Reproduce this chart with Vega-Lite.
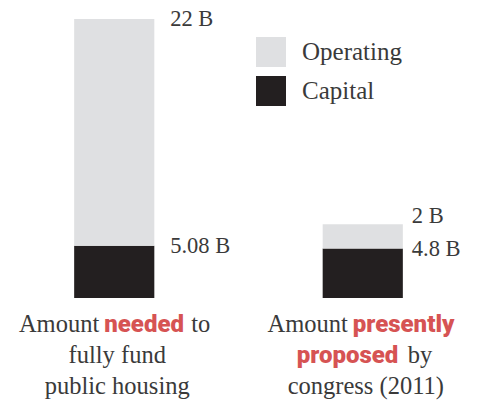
{
  "$schema": "https://vega.github.io/schema/vega-lite/v6.json",
  "padding": 0,
  "spacing": 10,
  "config": {"view": {"stroke": null}, "text": {"font": "Liberation Serif"}},
  "datasets": {
    "amounts": [
      {"bar": "needed", "type": "Capital", "value": 5.08, "label": "5.08 B"},
      {"bar": "needed", "type": "Operating", "value": 22, "label": "22 B"},
      {"bar": "proposed", "type": "Capital", "value": 4.8, "label": "4.8 B"},
      {"bar": "proposed", "type": "Operating", "value": 2.35, "label": "2 B"}
    ],
    "caption": [
      {"bar": "needed", "line": 1, "piece": "lead", "text": "Amount"},
      {"bar": "needed", "line": 1, "piece": "hl", "text": "needed"},
      {"bar": "needed", "line": 1, "piece": "to", "text": "to"},
      {"bar": "needed", "line": 2, "piece": "plain", "text": "fully fund"},
      {"bar": "needed", "line": 3, "piece": "plain", "text": "public housing"},
      {"bar": "proposed", "line": 1, "piece": "lead", "text": "Amount"},
      {"bar": "proposed", "line": 1, "piece": "hl", "text": "presently"},
      {"bar": "proposed", "line": 2, "piece": "hl2", "text": "proposed"},
      {"bar": "proposed", "line": 2, "piece": "by", "text": "by"},
      {"bar": "proposed", "line": 3, "piece": "plain", "text": "congress (2011)"}
    ]
  },
  "vconcat": [
    {
      "width": 477,
      "height": 298,
      "data": {"name": "amounts"},
      "transform": [
        {"stack": "value", "groupby": ["bar"], "sort": [{"field": "type", "order": "ascending"}], "as": ["v0", "v1"]}
      ],
      "encoding": {
        "x": {"field": "bar", "type": "nominal", "scale": {"type": "band", "domain": ["needed", "proposed"], "paddingInner": 0.6774, "paddingOuter": 0.2984}, "axis": null}
      },
      "layer": [
        {
          "mark": {"type": "bar"},
          "encoding": {
            "y": {"field": "v1", "type": "quantitative", "scale": {"domain": [0, 28.92], "nice": false}, "axis": null},
            "y2": {"field": "v0"},
            "color": {
              "field": "type", "type": "nominal",
              "scale": {"domain": ["Operating", "Capital"], "range": ["#dfe0e2", "#231f20"]},
              "legend": {"title": null, "orient": "none", "legendX": 256, "legendY": 37, "symbolType": "square", "symbolSize": 900, "symbolStrokeWidth": 0, "symbolOpacity": 1, "labelFont": "Liberation Serif", "labelFontSize": 25, "labelColor": "#3a3a3a", "labelOffset": 16, "rowPadding": 9, "padding": 0}
            }
          }
        },
        {
          "transform": [{"filter": "datum.bar === 'needed'"}],
          "mark": {"type": "text", "align": "left", "baseline": "middle", "dx": 56, "fontSize": 22.5, "color": "#3a3a3a"},
          "encoding": {"y": {"field": "v1", "type": "quantitative"}, "text": {"field": "label"}}
        },
        {
          "transform": [{"filter": "datum.bar === 'proposed' && datum.type === 'Capital'"}],
          "mark": {"type": "text", "align": "left", "baseline": "middle", "dx": 49, "fontSize": 22.5, "color": "#3a3a3a"},
          "encoding": {"y": {"field": "v1", "type": "quantitative"}, "text": {"field": "label"}}
        },
        {
          "transform": [{"filter": "datum.bar === 'proposed' && datum.type === 'Operating'"}],
          "mark": {"type": "text", "align": "left", "baseline": "middle", "dx": 49, "dy": -8, "fontSize": 22.5, "color": "#3a3a3a"},
          "encoding": {"y": {"field": "v1", "type": "quantitative"}, "text": {"field": "label"}}
        }
      ]
    },
    {
      "width": 477,
      "height": 92,
      "data": {"name": "caption"},
      "encoding": {
        "x": {"field": "bar", "type": "nominal", "scale": {"type": "band", "domain": ["needed", "proposed"], "paddingInner": 0.6774, "paddingOuter": 0.2984}, "axis": null},
        "y": {"field": "line", "type": "ordinal", "scale": {"type": "point", "domain": [1, 2, 3], "padding": 0.5}, "axis": null},
        "text": {"field": "text"}
      },
      "layer": [
        {
          "transform": [{"filter": "datum.piece === 'plain'"}],
          "mark": {"type": "text", "align": "center", "baseline": "alphabetic", "dy": 9, "dx": 3, "font": "Liberation Serif", "fontSize": 24.5, "color": "#3a3a3a"}
        },
        {
          "transform": [{"filter": "datum.piece === 'lead'"}],
          "mark": {"type": "text", "align": "right", "baseline": "alphabetic", "dy": 9, "dx": -15, "font": "Liberation Serif", "fontSize": 24.5, "color": "#3a3a3a"}
        },
        {
          "transform": [{"filter": "datum.piece === 'to'"}],
          "mark": {"type": "text", "align": "left", "baseline": "alphabetic", "dy": 9, "dx": 77, "font": "Liberation Serif", "fontSize": 24.5, "color": "#3a3a3a"}
        },
        {
          "transform": [{"filter": "datum.piece === 'by'"}],
          "mark": {"type": "text", "align": "left", "baseline": "alphabetic", "dy": 9, "dx": 45, "font": "Liberation Serif", "fontSize": 24.5, "color": "#3a3a3a"}
        },
        {
          "transform": [{"filter": "datum.piece === 'hl'"}],
          "mark": {"type": "text", "align": "left", "baseline": "alphabetic", "dy": 9, "dx": -10, "font": "Roboto", "fontWeight": 900, "fontSize": 24, "color": "#d65353"}
        },
        {
          "transform": [{"filter": "datum.piece === 'hl2'"}],
          "mark": {"type": "text", "align": "left", "baseline": "alphabetic", "dy": 9, "dx": -66, "font": "Roboto", "fontWeight": 900, "fontSize": 24, "letterSpacing": 1, "color": "#d65353"}
        }
      ]
    }
  ]
}
